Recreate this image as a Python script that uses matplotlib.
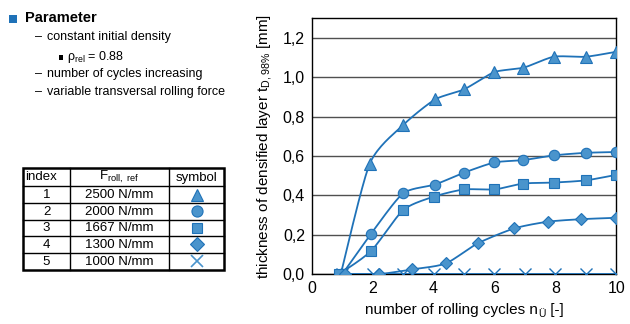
import numpy as np
import matplotlib
matplotlib.use("Agg")
import matplotlib.pyplot as plt
from matplotlib.patches import Rectangle

plt.rcParams['font.family'] = ['Liberation Sans', 'DejaVu Sans']
plt.rcParams['mathtext.fontset'] = 'custom'
plt.rcParams['mathtext.rm'] = 'Liberation Sans'
plt.rcParams['mathtext.it'] = 'Liberation Sans'

# data
x_tri = [0.95, 1.9, 3.0, 4.05, 5.0, 6.0, 6.95, 7.95, 9.0, 10.0]
y_tri = [0.0, 0.56, 0.757, 0.887, 0.938, 1.026, 1.048, 1.104, 1.104, 1.129]
x_circ = [1.0, 1.95, 3.0, 4.05, 5.0, 6.0, 6.95, 7.95, 9.0, 10.0]
y_circ = [0.0, 0.206, 0.41, 0.455, 0.515, 0.567, 0.579, 0.603, 0.616, 0.62]
x_sq = [0.9, 1.95, 3.0, 4.0, 5.0, 6.0, 6.95, 7.95, 9.0, 10.0]
y_sq = [0.0, 0.118, 0.325, 0.393, 0.43, 0.43, 0.46, 0.465, 0.476, 0.504]
x_dia = [1.1, 2.2, 3.3, 4.4, 5.45, 6.65, 7.75, 8.85, 10.0]
y_dia = [0.0, 0.0, 0.024, 0.054, 0.156, 0.232, 0.266, 0.279, 0.286]
x_x = [1.0, 2.0, 3.0, 4.0, 5.0, 6.0, 7.0, 8.0, 9.0, 10.0]
y_x = [0.0, 0.0, 0.0, 0.0, 0.0, 0.0, 0.0, 0.0, 0.0, 0.0]

idx = ['1', '2', '3', '4', '5']
forces = ['2500 N/mm', '2000 N/mm', '1667 N/mm', '1300 N/mm', '1000 N/mm']
markers = ['^', 'o', 's', 'D', 'x']

line_c = '#1f72b8'
fill_c = '#4a94cc'


def smooth(x, y, n=20, k=0.35):
    # Catmull-Rom-like curve through the points (smoothed line style), k = tangent scale
    x = np.asarray(x, float); y = np.asarray(y, float)
    px = np.concatenate([[x[0]], x, [x[-1]]])
    py = np.concatenate([[y[0]], y, [y[-1]]])
    xs, ys = [], []
    t = np.linspace(0, 1, n)
    h00 = 2 * t ** 3 - 3 * t ** 2 + 1
    h10 = t ** 3 - 2 * t ** 2 + t
    h01 = -2 * t ** 3 + 3 * t ** 2
    h11 = t ** 3 - t ** 2
    for i in range(1, len(px) - 2):
        for p, out in ((px, xs), (py, ys)):
            m1 = k * (p[i + 1] - p[i - 1])
            m2 = k * (p[i + 2] - p[i])
            out.extend(h00 * p[i] + h10 * m1 + h01 * p[i + 1] + h11 * m2)
    return np.array(xs), np.array(ys)


fig = plt.figure(figsize=(6.3, 3.24), dpi=100)
ax = fig.add_axes([0.495, 0.154, 0.483, 0.79])

series = [(x_tri, y_tri, '^', 9), (x_circ, y_circ, 'o', 7.5), (x_sq, y_sq, 's', 7),
          (x_dia, y_dia, 'D', 6.5)]
sx, sy = smooth(x_x, y_x)
ax.plot(sx, sy, color=line_c, lw=1.3, zorder=3)
ax.plot(x_x, y_x, 'x', color=line_c, ms=8, mew=1.0, zorder=4)
for xs_, ys_, m, ms in series:
    sx, sy = smooth(xs_, ys_)
    ax.plot(sx, sy, color=line_c, lw=1.3, zorder=3)
    ax.plot(xs_, ys_, m, color=fill_c, mec=line_c, mew=0.8, ms=ms, zorder=4)

ax.set_xlim(0, 10)
ax.set_ylim(0, 1.3)
ax.set_xticks([0, 2, 4, 6, 8, 10])
ax.set_yticks([0, 0.2, 0.4, 0.6, 0.8, 1.0, 1.2])
ax.set_yticklabels(['0,0', '0,2', '0,4', '0,6', '0,8', '1,0', '1,2'])
ax.tick_params(length=0, labelsize=11.5, pad=5)
ax.yaxis.grid(True, color='#505050', lw=1.0)
ax.set_axisbelow(True)
for s in ax.spines.values():
    s.set_color('black')
    s.set_linewidth(1.0)
ax.set_ylabel('thickness of densified layer t$_{D,98\\%}$ [mm]', fontsize=11, labelpad=6)

# x label built from pieces so the subscript Ü keeps its dots
fig.canvas.draw()
r = fig.canvas.get_renderer()
t1 = fig.text(0, 10 / 324, 'number of rolling cycles n', fontsize=11, va='baseline')
t2 = fig.text(0, 7 / 324, '\u00dc', fontsize=7.5, va='baseline')
t3 = fig.text(0, 10 / 324, ' [-]', fontsize=11, va='baseline')
w1 = t1.get_window_extent(r).width
w2 = t2.get_window_extent(r).width
w3 = t3.get_window_extent(r).width
x0 = 464 - (w1 + w2 + w3) / 2
t1.set_x(x0 / 630)
t2.set_x((x0 + w1 + 0.5) / 630)
t3.set_x((x0 + w1 + w2 + 0.5) / 630)

# left text block
fig.patches.append(Rectangle((9 / 630, 1 - 23 / 324), 8 / 630, 8 / 324, transform=fig.transFigure,
                             facecolor='#1f72b8', edgecolor='none'))
fig.text(25 / 630, 1 - 18.5 / 324, 'Parameter', fontsize=10.5, fontweight='bold', va='center')
fs = 9.0
fig.text(35 / 630, 1 - 37 / 324, '\u2013', fontsize=fs, va='center')
fig.text(47 / 630, 1 - 37 / 324, 'constant initial density', fontsize=fs, va='center')
fig.patches.append(Rectangle((59 / 630, 1 - 59.5 / 324), 4 / 630, 4 / 324, transform=fig.transFigure,
                             facecolor='black', edgecolor='none'))
fig.text(67 / 630, 1 - 57 / 324, '\u03c1$_{\\mathrm{rel}}$ = 0.88', fontsize=fs, va='center')
fig.text(35 / 630, 1 - 74 / 324, '\u2013', fontsize=fs, va='center')
fig.text(47 / 630, 1 - 74 / 324, 'number of cycles increasing', fontsize=fs, va='center')
fig.text(35 / 630, 1 - 92 / 324, '\u2013', fontsize=fs, va='center')
fig.text(47 / 630, 1 - 92 / 324, 'variable transversal rolling force', fontsize=fs, va='center')

# table
tfs = 9.5
tax = fig.add_axes([0, 0, 1, 1])
tax.set_xlim(0, 630)
tax.set_ylim(324, 0)
tax.axis('off')
cols = [23, 70, 169, 224]
rows = [168, 186, 203, 219.5, 236, 252.7, 270]
for c in cols[1:-1]:
    tax.plot([c, c], [rows[0], rows[-1]], color='black', lw=1.0)
for rr in rows[1:-1]:
    tax.plot([cols[0], cols[-1]], [rr, rr], color='black', lw=1.0)
tax.add_patch(Rectangle((cols[0], rows[0]), cols[-1] - cols[0], rows[-1] - rows[0],
                        fill=False, edgecolor='black', lw=1.8))
tax.text(25, (rows[0] + rows[1]) / 2 + 0.5, 'index', fontsize=tfs, va='center', ha='left')
tax.text((cols[1] + cols[2]) / 2, (rows[0] + rows[1]) / 2, 'F$_{\\mathrm{roll,\\ ref}}$',
         fontsize=tfs, va='center', ha='center')
tax.text((cols[2] + cols[3]) / 2, (rows[0] + rows[1]) / 2 + 0.5, 'symbol', fontsize=tfs,
         va='center', ha='center')
msz = [8.5, 8, 7.5, 7, 8]
for i in range(5):
    yc = (rows[i + 1] + rows[i + 2]) / 2
    tax.text((cols[0] + cols[1]) / 2, yc + 0.5, idx[i], fontsize=tfs, va='center', ha='center')
    tax.text((cols[1] + cols[2]) / 2, yc + 0.5, forces[i], fontsize=tfs, va='center', ha='center')
    if markers[i] == 'x':
        tax.plot([(cols[2] + cols[3]) / 2], [yc], 'x', color=fill_c, ms=msz[i], mew=1.2)
    else:
        tax.plot([(cols[2] + cols[3]) / 2], [yc], markers[i], color=fill_c, mec=line_c,
                 mew=0.8, ms=msz[i])

fig.savefig('out.png', dpi=100)
